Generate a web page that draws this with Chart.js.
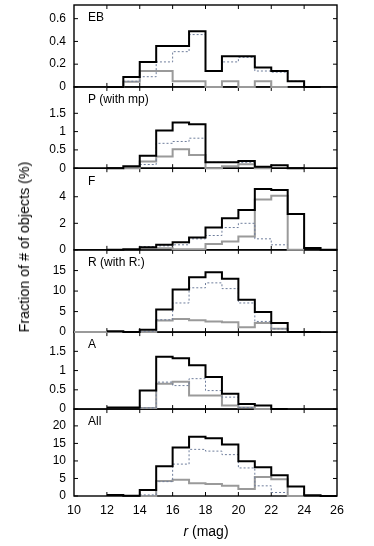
<!DOCTYPE html>
<html>
<head>
<meta charset="utf-8">
<script src="https://cdn.jsdelivr.net/npm/chart.js@4.4.1/dist/chart.umd.min.js"></script>
<style>
  html, body { margin: 0; padding: 0; background: #fff; }
  #wrap { position: relative; width: 374px; height: 546px; font-family: "Liberation Sans", Arial, sans-serif; }
  #c { position: absolute; left: 0; top: 0; }
  #ytitle { position: absolute; left: 24px; top: 247px; transform: translate(-50%, -50%) rotate(-90deg); white-space: nowrap; font-size: 14.3px; font-weight: normal; color: #000; }
  #xtitle { position: absolute; left: 206px; top: 531px; transform: translate(-50%, -50%); white-space: nowrap; font-size: 14px; color: #000; }
</style>
</head>
<body>
<div id="wrap">
  <canvas id="c" width="374" height="546"></canvas>
  <div id="ytitle">Fraction of # of objects (%)</div>
  <div id="xtitle"><i>r</i> (mag)</div>
</div>
<script>
// bin edges in r (mag), 1 mag wide
const edges = [10, 11, 12, 13, 14, 15, 16, 17, 18, 19, 20, 21, 22, 23, 24, 25, 26];
const xTicks = [10, 12, 14, 16, 18, 20, 22, 24, 26];

const panelNames = ['EB', 'P (with mp)', 'F', 'R (with R:)', 'A', 'All'];

// one value per bin (10-11 ... 25-26), null = not drawn
const ebBlack  = [null, null, 0, 0.087, 0.22, 0.36, 0.36, 0.49, 0.14, 0.27, 0.27, 0.17, 0.14, 0.05, 0, null];
const ebDotted = [null, null, null, 0.05, 0.09, 0.22, 0.31, 0.46, 0.14, 0.22, 0.26, 0.14, 0.13, 0.05, null, null];
const ebGray   = [null, null, 0, 0.045, 0.14, 0.14, 0.05, 0.05, 0, 0.05, 0, 0.05, 0, null, null, null];

const pBlack  = [null, null, 0, 0.05, 0.34, 1.03, 1.25, 1.2, 0.16, 0.16, 0.2, 0.04, 0.08, 0, null, null];
const pDotted = [null, null, null, null, 0.1, 0.68, 0.73, 0.82, 0.16, 0.16, 0.16, 0.04, 0.08, null, null, null];
const pGray   = [null, null, null, 0, 0.18, 0.32, 0.52, 0.36, 0, 0.05, 0.11, 0, null, null, null, null];

const fBlack  = [null, null, 0, 0.05, 0.2, 0.38, 0.58, 0.93, 1.68, 2.38, 3.0, 4.58, 4.5, 2.7, 0.13, 0];
const fDotted = [null, null, null, null, 0.25, 0.3, 0.38, 0.83, 1.08, 1.68, 2.0, 0.83, 0.38, null, null, null];
const fGray   = [null, null, null, null, 0.12, 0.12, 0.05, 0.05, 0.45, 0.63, 1.0, 3.8, 4.08, 0, null, null];

const rBlack  = [null, null, 0.2, 0, 0.6, 5.5, 10.4, 13.4, 14.6, 13.0, 7.9, 4.9, 2.2, 0, 0, null];
const rDotted = [null, null, null, null, 0.2, 3.0, 7.1, 10.8, 12.0, 10.6, 7.1, 2.6, 0.8, null, null, null];
const rGray   = [0, 0, 0, 0, 0, 2.8, 3.2, 2.9, 2.6, 2.4, 1.2, 2.2, 0.8, 0, null, null];

const aBlack  = [null, null, 0.04, 0.04, 0.48, 1.36, 1.32, 1.14, 0.83, 0.4, 0.13, 0.09, 0, null, null, null];
const aDotted = [null, null, null, null, 0.03, 0.7, 0.61, 0.79, 0.48, 0.31, 0.04, null, null, null, null, null];
const aGray   = [null, null, null, null, 0.03, 0.66, 0.71, 0.35, 0.35, 0.09, 0.04, 0, null, null, null, null];

const allBlack  = [null, null, 0.3, 0.1, 1.7, 8.5, 13.8, 16.9, 16.5, 14.7, 9.9, 8.2, 5.9, 2.7, 0.2, 0];
const allDotted = [null, null, null, null, 0.3, 4.1, 9.1, 13.3, 12.8, 11.8, 8.0, 2.9, 1.0, null, null, null];
const allGray   = [null, null, null, null, 0, 4.3, 4.6, 3.65, 3.4, 2.9, 2.0, 5.4, 4.8, 0, null, null];

// y tick labels and axis tops per panel
const yTicks = [
  [0, 0.2, 0.4, 0.6],
  [0, 0.5, 1, 1.5],
  [0, 2, 4],
  [0, 5, 10, 15],
  [0, 0.5, 1, 1.5],
  [0, 5, 10, 15, 20]
];
const yMax = [0.72, 2.22, 6.15, 20.05, 2.0, 24.8];

const series = [
  [ebBlack, ebDotted, ebGray],
  [pBlack, pDotted, pGray],
  [fBlack, fDotted, fGray],
  [rBlack, rDotted, rGray],
  [aBlack, aDotted, aGray],
  [allBlack, allDotted, allGray]
];

// layout
const panelWeights = [82, 81.3, 81.7, 82.3, 77, 87];
const FONT = '"Liberation Sans", Arial, sans-serif';

function steps(vals) {
  const pts = [];
  vals.forEach((v, i) => {
    if (v == null) return;
    pts.push({ x: edges[i], y: v });
    if (i === vals.length - 1 || vals[i + 1] == null) pts.push({ x: edges[i + 1], y: v });
  });
  return pts;
}

const styles = [
  { borderColor: '#000', borderWidth: 2, borderDash: [] },
  { borderColor: '#6f7e9c', borderWidth: 1, borderDash: [2, 2] },
  { borderColor: '#9a9a9a', borderWidth: 2, borderDash: [] }
];

function noPad(s) {
  s.paddingTop = 0; s.paddingBottom = 0; s.paddingLeft = 0; s.paddingRight = 0;
}

const datasets = [];
const scales = {
  x: {
    type: 'linear', min: 10, max: 26,
    grid: { display: false, drawTicks: false }, border: { display: false },
    afterBuildTicks: s => { s.ticks = xTicks.map(v => ({ value: v })); },
    afterFit: s => { s.height = 50; noPad(s); },
    ticks: { color: '#000', padding: 7, autoSkip: false, maxRotation: 0, font: { size: 12.5, family: FONT } }
  }
};

series.forEach((grp, p) => {
  const id = 'y' + p;
  scales[id] = {
    type: 'linear', position: 'left', stack: 'panels', stackWeight: panelWeights[p],
    weight: 6 - p, offset: false,
    min: 0, max: yMax[p],
    grid: { display: false, drawTicks: false }, border: { display: false },
    afterBuildTicks: s => { s.ticks = yTicks[p].map(v => ({ value: v })); },
    afterFit: s => { s.width = 64; noPad(s); },
    ticks: { color: '#000', padding: 8, autoSkip: false, font: { size: 12, family: FONT }, callback: v => String(v) }
  };
  grp.forEach((vals, k) => {
    datasets.push({
      data: steps(vals), yAxisID: id, xAxisID: 'x', stepped: true,
      pointRadius: 0, fill: false, clip: 3, order: k,
      borderColor: styles[k].borderColor, borderWidth: styles[k].borderWidth,
      borderDash: styles[k].borderDash
    });
  });
});

const framePlugin = {
  id: 'frames',
  beforeDatasetsDraw(chart) {
    const ctx = chart.ctx, area = chart.chartArea, xs = chart.scales.x;
    ctx.save();
    ctx.strokeStyle = '#000';
    series.forEach((g, p) => {
      const s = chart.scales['y' + p];
      ctx.lineWidth = 1.4;
      ctx.strokeRect(area.left, s.top, area.right - area.left, s.bottom - s.top);
      ctx.beginPath();
      ctx.lineWidth = 1;
      yTicks[p].forEach(v => {
        const y = s.getPixelForValue(v);
        ctx.moveTo(area.left, y); ctx.lineTo(area.left + 4, y);
        ctx.moveTo(area.right, y); ctx.lineTo(area.right - 4, y);
      });
      xTicks.slice(1, -1).forEach(v => {
        const x = xs.getPixelForValue(v);
        ctx.moveTo(x, s.top); ctx.lineTo(x, s.top + 4);
        ctx.moveTo(x, s.bottom); ctx.lineTo(x, s.bottom - 4);
      });
      ctx.stroke();
      ctx.fillStyle = '#000';
      ctx.font = '12px ' + FONT;
      ctx.textBaseline = 'middle';
      ctx.textAlign = 'left';
      ctx.fillText(panelNames[p], area.left + 14, s.top + 13);
    });
    ctx.restore();
  }
};

new Chart(document.getElementById('c'), {
  type: 'line',
  data: { datasets },
  options: {
    responsive: false,
    animation: false,
    layout: { padding: { left: 10, right: 37, top: 5, bottom: 0 } },
    plugins: { legend: { display: false }, tooltip: { enabled: false } },
    scales
  },
  plugins: [framePlugin]
});
</script>
</body>
</html>
